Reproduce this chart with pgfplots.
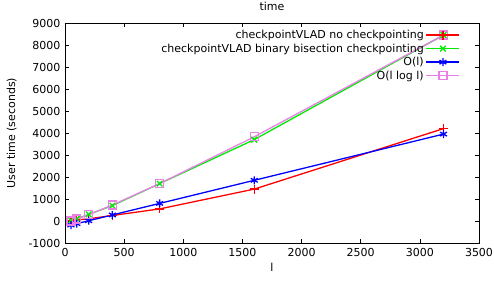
\documentclass[border=0pt]{standalone}
\usepackage{pgfplots}
\pgfplotsset{compat=1.18}
\usepackage{fontspec}
\setmainfont{DejaVu Sans}
\definecolor{gred}{RGB}{255,0,0}
\definecolor{ggreen}{RGB}{0,235,0}
\definecolor{gblue}{RGB}{0,0,255}
\definecolor{gpink}{RGB}{232,128,232}
\newcommand{\gimg}[3]{\path[draw=#1, line width=1.3pt] (0pt,0.4pt) -- (33pt,0.4pt);
  \draw[#1, line width=1.2pt] plot[mark=#2, mark size=#3, only marks] coordinates {(16.5pt,0.4pt)};}
\begin{document}
\begin{tikzpicture}[x=1pt,y=1pt]
\begin{axis}[
  name=ax,
  scale only axis,
  width=414pt, height=220pt,
  xmin=0, xmax=3500, ymin=-1000, ymax=9000,
  xtick={0,500,...,3500},
  ytick={-1000,0,...,9000},
  tick align=inside,
  major tick length=4pt,
  minor tick num=0,
  axis line style={line width=0.8pt},
  tick style={line width=0.6pt, black},
  /pgf/number format/assume math mode=true,
  /pgf/number format/set thousands separator={},
  tick label style={font=\fontsize{11}{12}\selectfont},
  xticklabel style={yshift=-2pt},
  yticklabel style={xshift=-1pt},
  title={time},
  title style={font=\fontsize{11}{12}\selectfont, at={(0.5,1)}, yshift=3pt},
  xlabel={l},
  ylabel={User time (seconds)},
  label style={font=\fontsize{11}{12}\selectfont},
  xlabel style={yshift=1pt},
  ylabel style={yshift=5pt},
  legend style={draw=none, fill=none, at={(0.962,0.985)}, anchor=north east,
    font=\fontsize{11}{12}\selectfont, row sep=-0.3pt,
    /tikz/every even column/.append style={column sep=3pt}},
  legend cell align=right,
  legend plot pos=right,
  every axis plot/.append style={line width=1.3pt},
]
\addplot[color=gred, mark=+, mark size=4.5pt, mark options={line width=1.3pt},
  legend image code/.code={\gimg{gred}{+}{4.5pt}}] coordinates {
(50,20) (100,50) (200,100) (400,250) (800,550) (1600,1450) (3200,4200)};
\addlegendentry{checkpointVLAD no checkpointing}
\addplot[color=ggreen, mark=x, mark size=4pt, mark options={line width=1.3pt},
  legend image code/.code={\gimg{ggreen}{x}{4pt}}] coordinates {
(50,30) (100,100) (200,300) (400,700) (800,1700) (1600,3700) (3200,8450)};
\addlegendentry{checkpointVLAD binary bisection checkpointing}
\addplot[color=gblue, mark=asterisk, mark size=4pt, mark options={line width=1.3pt},
  legend image code/.code={\gimg{gblue}{asterisk}{4pt}}] coordinates {
(50,-184) (100,-119) (200,12) (400,275) (800,800) (1600,1850) (3200,3950)};
\addlegendentry{O(l)}
\addplot[color=gpink, mark=square, mark size=4pt, mark options={line width=1.3pt},
  legend image code/.code={\gimg{gpink}{square}{4pt}}] coordinates {
(50,1) (100,89) (200,286) (400,727) (800,1700) (1600,3828) (3200,8450)};
\addlegendentry{O(l log l)}
\end{axis}
\pgfresetboundingbox
\path ([shift={(-65pt,-37pt)}]ax.south west) rectangle ([shift={(15pt,23pt)}]ax.north east);
\end{tikzpicture}
\end{document}
